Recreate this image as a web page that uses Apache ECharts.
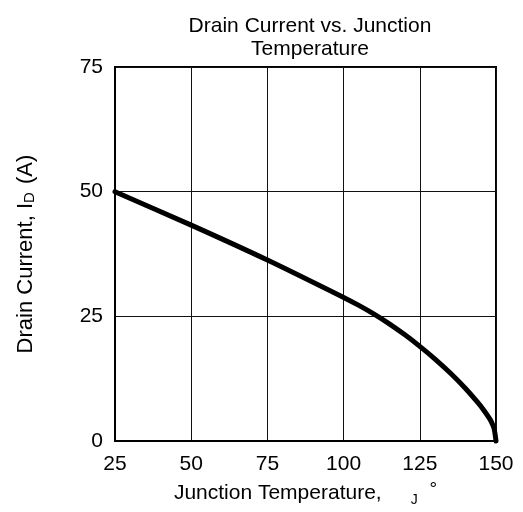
<!DOCTYPE html>
<html>
<head>
<meta charset="utf-8">
<script src="https://cdn.jsdelivr.net/npm/echarts@6/dist/echarts.min.js"></script>
<style>html,body{margin:0;padding:0;background:#fff;}#c{width:523px;height:512px;}</style>
</head>
<body>
<div id="c"></div>
<script>
var temperature = [25, 50, 75, 100, 105, 110, 115, 120, 125, 130, 135, 140, 144, 146, 148, 149, 149.5, 150];
var drainCurrent = [50, 43.3, 36.3, 28.8, 27.2, 25.45, 23.5, 21.35, 19.0, 16.45, 13.65, 10.55, 7.75, 6.2, 4.4, 3.15, 2.15, 0];
var xTicks = [25, 50, 75, 100, 125, 150];
var yTicks = [0, 25, 50, 75];

var chart = echarts.init(document.getElementById('c'), null, {renderer: 'canvas'});
var FONT = '"Liberation Sans", Arial, sans-serif';
chart.setOption({
  animation: false,
  backgroundColor: '#fff',
  title: {
    text: 'Drain Current vs. Junction\nTemperature',
    left: 305, top: 10, textAlign: 'center',
    textStyle: {fontFamily: FONT, fontSize: 21, fontWeight: 'normal', color: '#000', lineHeight: 23}
  },
  grid: {left: 115, right: 27, top: 67, bottom: 67, show: true, borderColor: '#000', borderWidth: 2, backgroundColor: 'transparent'},
  xAxis: {
    type: 'value', min: xTicks[0], max: xTicks[xTicks.length - 1], interval: 25,
    name: 'Junction Temperature,     {sub|J}  {sup|°}',
    nameLocation: 'middle', nameGap: 35,
    nameTextStyle: {fontFamily: FONT, fontSize: 21, color: '#000',
      rich: {sub: {fontFamily: FONT, fontSize: 14, color: '#000', verticalAlign: 'bottom', padding: [8, 0, 0, 0]},
             sup: {fontFamily: FONT, fontSize: 19, color: '#000', verticalAlign: 'top', padding: [0, 0, 8, 0]}}},
    axisLine: {show: true, lineStyle: {color: '#000', width: 2}},
    axisTick: {show: false},
    axisLabel: {fontFamily: FONT, fontSize: 21, color: '#000', margin: 13},
    splitLine: {show: true, lineStyle: {color: '#111', width: 1}}
  },
  yAxis: {
    type: 'value', min: yTicks[0], max: yTicks[yTicks.length - 1], interval: 25,
    name: 'Drain Current, I{sub|D} (A)',
    nameLocation: 'middle', nameGap: 78,
    nameTextStyle: {fontFamily: FONT, fontSize: 22, color: '#000',
      rich: {sub: {fontFamily: FONT, fontSize: 15, color: '#000', verticalAlign: 'bottom', padding: [8, 2, 0, 0]}}},
    axisLine: {show: true, lineStyle: {color: '#000', width: 2}},
    axisTick: {show: false},
    axisLabel: {fontFamily: FONT, fontSize: 21, color: '#000', margin: 12},
    splitLine: {show: true, lineStyle: {color: '#111', width: 1}}
  },
  series: [{
    type: 'line',
    data: temperature.map(function (t, i) { return [t, drainCurrent[i]]; }),
    smooth: 0.25,
    showSymbol: false,
    lineStyle: {color: '#000', width: 5, cap: 'round', join: 'round'},
    clip: false
  }]
});
</script>
</body>
</html>
